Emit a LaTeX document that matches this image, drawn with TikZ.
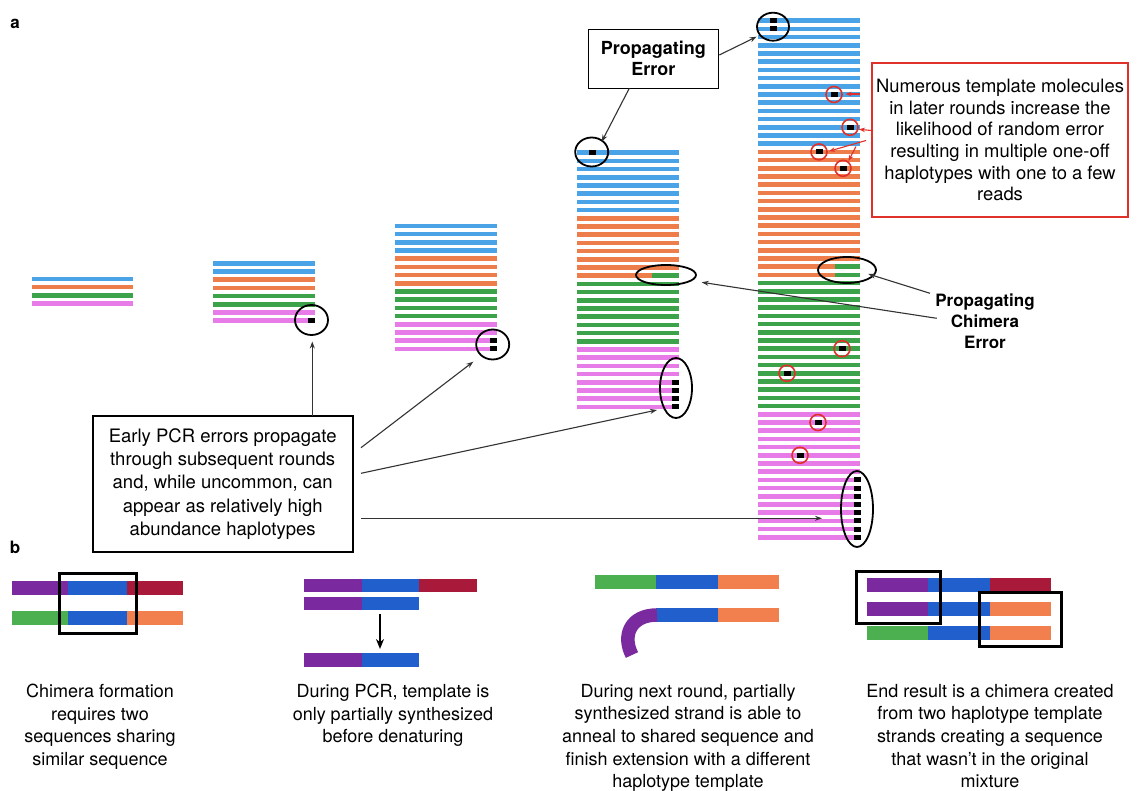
\documentclass[tikz,border=0pt]{standalone}
\usepackage{fontspec}
\setmainfont{TeX Gyre Heros}
\usetikzlibrary{shapes.geometric,arrows.meta}
\definecolor{cblue}{HTML}{4AA3E6}
\definecolor{corange}{HTML}{EE7D4C}
\definecolor{cgreen}{HTML}{3DA34A}
\definecolor{cpink}{HTML}{E77BE8}
\definecolor{bpurple}{HTML}{7A2A9E}
\definecolor{bblue}{HTML}{2160CC}
\definecolor{bred}{HTML}{A8193A}
\definecolor{bgreen}{HTML}{4CAF50}
\definecolor{borange}{HTML}{F2804F}
\definecolor{rline}{HTML}{E0302A}
\newcommand\pcrcol[4]{%
  \foreach \cc [count=\j from 0] in {cblue,corange,cgreen,cpink}{%
    \foreach \i in {1,...,#4}{%
      \pgfmathsetmacro\yy{#3+(\j*#4+\i-1)*8.2}%
      \draw[bar,draw=\cc] (#1,\yy) -- (#2,\yy);
    }%
  }%
}
\newcommand\emark[2]{\fill[black] (#1-3.5,#2-2.5) rectangle (#1+3.5,#2+2.5);}
\begin{document}
\begin{tikzpicture}[x=1pt,y=-1pt,
  bar/.style={line width=4.6pt},
  bbar/.style={line width=13.5pt},
  errc/.style={draw=black, ellipse, line width=1.8pt, inner sep=0pt},
  redc/.style={draw=rline, circle, line width=1.6pt, inner sep=0pt, minimum size=16pt},
  arr/.style={line width=1.1pt, draw=black!80, -{Stealth[length=7pt,width=5pt]}},
  redarr/.style={line width=1.1pt, draw=rline, -{Stealth[length=6pt,width=4.5pt]}},
  txt/.style={font=\fontsize{18.5}{23.2}\selectfont, align=center, inner sep=0pt},
  captxt/.style={font=\fontsize{18}{22.6}\selectfont, align=center, inner sep=0pt, anchor=north},
  lab/.style={font=\bfseries\fontsize{18}{21}\selectfont, align=center, inner sep=0pt},
]
\useasboundingbox[fill=white] (0,0) rectangle (1144,791);

% panel labels
\node[font=\bfseries\fontsize{17}{20}\selectfont] (la) at (15,24) {a};
\node[font=\bfseries\fontsize{17}{20}\selectfont] (lb) at (15,547) {b};

% PCR rounds
\pcrcol{32.3}{133.3}{279}{1}
\pcrcol{213.3}{315}{263.3}{2}
\pcrcol{395}{497.3}{226}{4}
\pcrcol{577.3}{679}{152.7}{8}
\pcrcol{758.3}{860}{20.7}{16}

% chimeras
\draw[bar,draw=cgreen] (652,152.7+15*8.2) -- (679,152.7+15*8.2);
\draw[bar,draw=cgreen] (835,20.7+30*8.2) -- (860,20.7+30*8.2);
\draw[bar,draw=cgreen] (835,20.7+31*8.2) -- (860,20.7+31*8.2);

% error marks
\emark{311.5}{263.3+7*8.2}
\emark{493}{226+14*8.2}
\emark{493}{226+15*8.2}
\emark{592}{152.7}
\foreach \k in {28,...,31}{\emark{675}{152.7+\k*8.2}}
\emark{773}{20.7}
\emark{773}{20.7+8.2}
\foreach \k in {56,...,63}{\emark{857}{20.7+\k*8.2}}
\emark{834}{20.7+9*8.2}
\emark{850}{20.7+13*8.2}
\emark{819}{20.7+16*8.2}
\emark{843}{20.7+18*8.2}
\emark{842}{20.7+40*8.2}
\emark{787}{20.7+43*8.2}
\emark{818}{20.7+49*8.2}
\emark{800}{20.7+53*8.2}

% circles
\node[errc, minimum width=33, minimum height=30] (c2) at (311.5,320) {};
\node[errc, minimum width=33, minimum height=30] (c3) at (492.7,344.5) {};
\node[errc, minimum width=33, minimum height=29] (c4t) at (591.7,152) {};
\node[errc, minimum width=32, minimum height=60] (c4b) at (676,388) {};
\node[errc, minimum width=60, minimum height=20] (c4c) at (666,275) {};
\node[errc, minimum width=32, minimum height=28] (c5t) at (773,26.7) {};
\node[errc, minimum width=58, minimum height=26] (c5c) at (847,270) {};
\node[errc, minimum width=32, minimum height=76] (c5b) at (857,509) {};
\node[redc] (r1) at (834,94.5) {};
\node[redc] (r2) at (850,127.3) {};
\node[redc] (r3) at (819,151.9) {};
\node[redc] (r4) at (843,168.3) {};
\node[redc] (r5) at (842,348.7) {};
\node[redc] (r6) at (787,373.3) {};
\node[redc] (r7) at (818,422.5) {};
\node[redc] (r8) at (800,455.3) {};

% text boxes
\node[draw, line width=1.2pt, minimum width=130, minimum height=59, lab] (pe) at (653.3,58.8) {Propagating\\Error};
\node[lab, font=\bfseries\fontsize{17}{20.8}\selectfont] (pce) at (985,321) {Propagating\\Chimera\\Error};
\node[draw=rline, line width=1.5pt, minimum width=256, minimum height=154, font=\fontsize{18.4}{21.7}\selectfont, align=center, inner sep=0pt] (rb) at (1000,140)
  {Numerous template molecules\\in later rounds increase the\\likelihood of random error\\resulting in multiple one-off\\haplotypes with one to a few\\reads};
\node[draw, line width=2pt, minimum width=260, minimum height=136, txt] (eb) at (222.7,484)
  {Early PCR errors propagate\\through subsequent rounds\\and, while uncommon, can\\appear as relatively high\\abundance haplotypes};

% connectors
\coordinate (pe1) at (629.3,88.3);
\coordinate (pe1e) at (601.7,141.7);
\coordinate (pe2) at (719.3,55);
\coordinate (pe2e) at (756.7,36.7);
\draw[arr] (pe1) -- (pe1e);
\draw[arr] (pe2) -- (pe2e);

\coordinate (ch1) at (930,293.3);
\coordinate (ch1e) at (868.3,274);
\coordinate (ch2) at (936.7,318.3);
\coordinate (ch2e) at (701.7,282.3);
\draw[arr] (ch1) -- (ch1e);
\draw[arr] (ch2) -- (ch2e);

\coordinate (rs1) at (860,94);
\coordinate (re1) at (845.5,94);
\coordinate (rs2) at (873,130.7);
\coordinate (re2) at (859,129.3);
\coordinate (rs3) at (866,140.5);
\coordinate (re3) at (829,151.2);
\coordinate (rs4) at (856,146.5);
\coordinate (re4) at (848.5,161);
\draw[redarr] (rs1) -- (re1);
\draw[redarr] (rs2) -- (re2);
\draw[redarr] (rs3) -- (re3);
\draw[redarr] (rs4) -- (re4);

\coordinate (e1) at (312.3,416);
\coordinate (e1e) at (312.3,341.5);
\coordinate (e2) at (361,447.7);
\coordinate (e2e) at (473.3,361.7);
\coordinate (e3) at (361,473.3);
\coordinate (e3e) at (657,410);
\coordinate (e4) at (361,518.3);
\coordinate (e4e) at (822,518.3);
\draw[arr] (e1) -- (e1e);
\draw[arr] (e2) -- (e2e);
\draw[arr] (e3) -- (e3e);
\draw[arr] (e4) -- (e4e);

% ---- part b ----
% panel 1
\draw[bbar,bpurple] (11.7,588) -- (68,588);
\draw[bbar,bblue] (68,588) -- (126.7,588);
\draw[bbar,bred] (126.7,588) -- (183,588);
\draw[bbar,bgreen] (11.7,618) -- (68,618);
\draw[bbar,bblue] (68,618) -- (126.7,618);
\draw[bbar,borange] (126.7,618) -- (183,618);
\draw[line width=3pt] (59,573) rectangle (136,633);

% panel 2
\draw[bbar,bpurple] (304.3,585.5) -- (361.7,585.5);
\draw[bbar,bblue] (361.7,585.5) -- (419.3,585.5);
\draw[bbar,bred] (419.3,585.5) -- (476.7,585.5);
\draw[bbar,bpurple] (304.3,603.7) -- (361.7,603.7);
\draw[bbar,bblue] (361.7,603.7) -- (419.3,603.7);
\draw[bbar,bpurple] (304.3,660) -- (361.7,660);
\draw[bbar,bblue] (361.7,660) -- (419.3,660);
\coordinate (pa) at (380,614);
\coordinate (pb) at (380,649);
\draw[line width=1.8pt, -{Stealth[length=10pt,width=8pt]}] (pa) -- (pb);

% panel 3
\draw[bbar,bgreen] (595,582) -- (656,582);
\draw[bbar,bblue] (656,582) -- (718,582);
\draw[bbar,borange] (718,582) -- (779,582);
\draw[bbar,bblue] (656,615) -- (718,615);
\draw[bbar,borange] (718,615) -- (779,615);
\draw[bbar,bpurple] (657,615) .. controls (630,615) and (622,636) .. (632,655);

% panel 4
\draw[bbar,bpurple] (867.3,585) -- (928.3,585);
\draw[bbar,bblue] (928.3,585) -- (990,585);
\draw[bbar,bred] (990,585) -- (1051,585);
\draw[bbar,bpurple] (867.3,609) -- (928.3,609);
\draw[bbar,bblue] (928.3,609) -- (990,609);
\draw[bbar,borange] (990,609) -- (1051,609);
\draw[bbar,bgreen] (867.3,633) -- (928.3,633);
\draw[bbar,bblue] (928.3,633) -- (990,633);
\draw[bbar,borange] (990,633) -- (1051,633);
\draw[line width=3pt] (856.7,571) rectangle (940,623.3);
\draw[line width=3pt] (979,592.7) rectangle (1061.7,646);

% captions
\node[captxt] (cap1) at (100,684) {Chimera formation\\requires two\\sequences sharing\\similar sequence};
\node[captxt] (cap2) at (393,684) {During PCR, template is\\only partially synthesized\\before denaturing};
\node[captxt] (cap3) at (688,684) {During next round, partially\\synthesized strand is able to\\anneal to shared sequence and\\finish extension with a different\\haplotype template};
\node[captxt] (cap4) at (990,684) {End result is a chimera created\\from two haplotype template\\strands creating a sequence\\that wasn't in the original\\mixture};
\end{tikzpicture}
\end{document}
